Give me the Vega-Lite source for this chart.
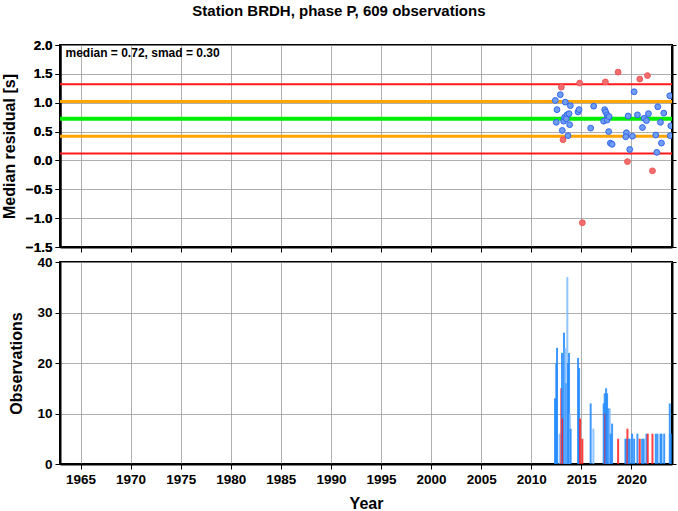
{
  "$schema": "https://vega.github.io/schema/vega-lite/v6.json",
  "background": "white",
  "padding": {"left": 0, "top": 4, "right": 6, "bottom": 0},
  "bounds": "flush",
  "spacing": 15,
  "resolve": {"scale": {"color": "independent"}},
  "title": {"text": "Station BRDH, phase P, 609 observations", "font": "Liberation Sans", "fontSize": 15, "fontWeight": "bold", "color": "black", "anchor": "middle", "offset": 18},
  "config": {
    "font": "Liberation Sans",
    "view": {"stroke": "black", "strokeWidth": 2},
    "axis": {
      "labelFont": "Liberation Sans", "labelFontWeight": "bold", "labelFontSize": 13.5, "labelColor": "black",
      "titleFont": "Liberation Sans", "titleFontWeight": "bold", "titleFontSize": 16, "titleColor": "black",
      "gridColor": "#9a9a9a", "gridWidth": 0.8, "gridOpacity": 1,
      "tickColor": "black", "tickSize": 5, "tickWidth": 1,
      "domainColor": "black", "domainWidth": 2, "labelPadding": 3
    }
  },
  "datasets": {
    "pts": [
      {"year": 2018.67, "res": 1.53, "cls": "out"},
      {"year": 2013.0, "res": 1.27, "cls": "out"},
      {"year": 2014.83, "res": 1.34, "cls": "out"},
      {"year": 2017.4, "res": 1.36, "cls": "out"},
      {"year": 2020.83, "res": 1.41, "cls": "out"},
      {"year": 2021.6, "res": 1.47, "cls": "out"},
      {"year": 2013.17, "res": 0.36, "cls": "out"},
      {"year": 2019.6, "res": -0.02, "cls": "out"},
      {"year": 2022.1, "res": -0.18, "cls": "out"},
      {"year": 2015.1, "res": -1.08, "cls": "out"},
      {"year": 2012.4, "res": 1.04, "cls": "in"},
      {"year": 2012.9, "res": 1.14, "cls": "in"},
      {"year": 2012.57, "res": 0.88, "cls": "in"},
      {"year": 2012.5, "res": 0.66, "cls": "in"},
      {"year": 2013.4, "res": 1.01, "cls": "in"},
      {"year": 2013.9, "res": 0.95, "cls": "in"},
      {"year": 2013.1, "res": 0.52, "cls": "in"},
      {"year": 2013.67, "res": 0.43, "cls": "in"},
      {"year": 2013.23, "res": 0.68, "cls": "in"},
      {"year": 2013.33, "res": 0.75, "cls": "in"},
      {"year": 2013.57, "res": 0.79, "cls": "in"},
      {"year": 2013.77, "res": 0.81, "cls": "in"},
      {"year": 2013.83, "res": 0.62, "cls": "in"},
      {"year": 2013.5, "res": 0.72, "cls": "in"},
      {"year": 2014.67, "res": 0.84, "cls": "in"},
      {"year": 2014.77, "res": 0.88, "cls": "in"},
      {"year": 2015.93, "res": 0.56, "cls": "in"},
      {"year": 2016.23, "res": 0.94, "cls": "in"},
      {"year": 2017.33, "res": 0.88, "cls": "in"},
      {"year": 2017.43, "res": 0.84, "cls": "in"},
      {"year": 2017.57, "res": 0.79, "cls": "in"},
      {"year": 2017.67, "res": 0.75, "cls": "in"},
      {"year": 2017.23, "res": 0.68, "cls": "in"},
      {"year": 2017.57, "res": 0.70, "cls": "in"},
      {"year": 2017.77, "res": 0.76, "cls": "in"},
      {"year": 2017.73, "res": 0.50, "cls": "in"},
      {"year": 2017.9, "res": 0.30, "cls": "in"},
      {"year": 2018.07, "res": 0.28, "cls": "in"},
      {"year": 2019.5, "res": 0.48, "cls": "in"},
      {"year": 2019.43, "res": 0.41, "cls": "in"},
      {"year": 2019.67, "res": 0.77, "cls": "in"},
      {"year": 2020.1, "res": 0.42, "cls": "in"},
      {"year": 2019.83, "res": 0.19, "cls": "in"},
      {"year": 2020.27, "res": 1.19, "cls": "in"},
      {"year": 2020.6, "res": 0.79, "cls": "in"},
      {"year": 2021.1, "res": 0.57, "cls": "in"},
      {"year": 2021.27, "res": 0.73, "cls": "in"},
      {"year": 2021.5, "res": 0.69, "cls": "in"},
      {"year": 2021.7, "res": 0.81, "cls": "in"},
      {"year": 2022.43, "res": 0.44, "cls": "in"},
      {"year": 2022.53, "res": 0.14, "cls": "in"},
      {"year": 2022.63, "res": 0.93, "cls": "in"},
      {"year": 2022.9, "res": 0.66, "cls": "in"},
      {"year": 2023.0, "res": 0.30, "cls": "in"},
      {"year": 2023.23, "res": 0.82, "cls": "in"},
      {"year": 2023.83, "res": 1.12, "cls": "in"},
      {"year": 2023.87, "res": 0.43, "cls": "in"},
      {"year": 2023.93, "res": 0.60, "cls": "in"}
    ],
    "lines": [
      {"val": 1.32, "kind": "r2", "w": 2},
      {"val": 0.12, "kind": "r2", "w": 2},
      {"val": 1.02, "kind": "r1", "w": 3},
      {"val": 0.42, "kind": "r1", "w": 3},
      {"val": 0.72, "kind": "med", "w": 4}
    ],
    "bars": [
      {"year": 2012.37, "n": 13, "c": "blue"},
      {"year": 2012.5, "n": 20, "c": "blue"},
      {"year": 2012.57, "n": 23, "c": "blue"},
      {"year": 2012.83, "n": 6, "c": "light"},
      {"year": 2013.0, "n": 15, "c": "red"},
      {"year": 2013.07, "n": 22, "c": "blue"},
      {"year": 2013.13, "n": 9, "c": "red"},
      {"year": 2013.27, "n": 26, "c": "blue"},
      {"year": 2013.4, "n": 23, "c": "light"},
      {"year": 2013.5, "n": 16, "c": "blue"},
      {"year": 2013.6, "n": 37, "c": "light"},
      {"year": 2013.67, "n": 20, "c": "blue"},
      {"year": 2013.77, "n": 22, "c": "blue"},
      {"year": 2013.85, "n": 10, "c": "light"},
      {"year": 2013.93, "n": 7, "c": "blue"},
      {"year": 2014.67, "n": 21, "c": "blue"},
      {"year": 2014.77, "n": 19, "c": "blue"},
      {"year": 2014.87, "n": 9, "c": "red"},
      {"year": 2015.1, "n": 5, "c": "red"},
      {"year": 2015.93, "n": 12, "c": "blue"},
      {"year": 2016.2, "n": 7, "c": "light"},
      {"year": 2017.23, "n": 12, "c": "blue"},
      {"year": 2017.33, "n": 14, "c": "blue"},
      {"year": 2017.4, "n": 10, "c": "red"},
      {"year": 2017.47, "n": 15, "c": "blue"},
      {"year": 2017.57, "n": 14, "c": "blue"},
      {"year": 2017.73, "n": 11, "c": "blue"},
      {"year": 2017.83, "n": 11, "c": "light"},
      {"year": 2017.93, "n": 6, "c": "blue"},
      {"year": 2018.07, "n": 8, "c": "blue"},
      {"year": 2018.67, "n": 5, "c": "red"},
      {"year": 2019.4, "n": 5, "c": "blue"},
      {"year": 2019.5, "n": 5, "c": "blue"},
      {"year": 2019.6, "n": 7, "c": "red"},
      {"year": 2019.73, "n": 5, "c": "blue"},
      {"year": 2019.83, "n": 5, "c": "blue"},
      {"year": 2020.07, "n": 6, "c": "blue"},
      {"year": 2020.27, "n": 5, "c": "blue"},
      {"year": 2020.6, "n": 6, "c": "blue"},
      {"year": 2020.83, "n": 5, "c": "red"},
      {"year": 2021.07, "n": 5, "c": "blue"},
      {"year": 2021.23, "n": 5, "c": "blue"},
      {"year": 2021.5, "n": 6, "c": "blue"},
      {"year": 2021.63, "n": 6, "c": "red"},
      {"year": 2022.1, "n": 6, "c": "red"},
      {"year": 2022.43, "n": 6, "c": "blue"},
      {"year": 2022.6, "n": 6, "c": "blue"},
      {"year": 2022.9, "n": 6, "c": "blue"},
      {"year": 2023.0, "n": 6, "c": "blue"},
      {"year": 2023.27, "n": 6, "c": "blue"},
      {"year": 2023.83, "n": 12, "c": "blue"},
      {"year": 2023.93, "n": 6, "c": "blue"}
    ]
  },
  "vconcat": [
    {
      "width": 612,
      "height": 202,
      "resolve": {"axis": {"y": "independent"}},
      "layer": [
        {
          "data": {"name": "lines"},
          "mark": {"type": "rule", "clip": true},
          "encoding": {
            "y": {"field": "val", "type": "quantitative", "scale": {"domain": [-1.5, 2.0], "nice": false}, "axis": {"values": [-1.5, -1.0, -0.5, 0.0, 0.5, 1.0, 1.5, 2.0], "format": ".1f", "title": "Median residual [s]", "titlePadding": 8, "grid": true}},
            "color": {"field": "kind", "type": "nominal", "scale": {"domain": ["r2", "r1", "med"], "range": ["#ff1a1a", "#ffa500", "#00ee00"]}, "legend": null},
            "strokeWidth": {"field": "w", "type": "quantitative", "scale": null}
          }
        },
        {
          "data": {"name": "pts"},
          "mark": {"type": "circle", "size": 34, "opacity": 1, "strokeWidth": 1, "clip": true},
          "encoding": {
            "x": {"field": "year", "type": "quantitative", "scale": {"domain": [1962.95, 2024.05], "nice": false, "zero": false}, "axis": {"values": [1965, 1970, 1975, 1980, 1985, 1990, 1995, 2000, 2005, 2010, 2015, 2020], "labels": false, "title": null, "grid": true, "ticks": true}},
            "y": {"field": "res", "type": "quantitative", "scale": {"domain": [-1.5, 2.0], "nice": false}, "axis": {"orient": "right", "values": [-1.5, -1.0, -0.5, 0.0, 0.5, 1.0, 1.5, 2.0], "labels": false, "title": null, "grid": false, "tickSize": 4}},
            "fill": {"field": "cls", "type": "nominal", "scale": {"domain": ["in", "out"], "range": ["#6f9df2", "#f26d6d"]}, "legend": null},
            "stroke": {"field": "cls", "type": "nominal", "scale": {"domain": ["in", "out"], "range": ["#3366ee", "#ee5555"]}, "legend": null}
          }
        },
        {
          "data": {"values": [{"label": "median = 0.72, smad = 0.30"}]},
          "mark": {"type": "text", "align": "left", "baseline": "middle", "font": "Liberation Sans", "fontWeight": "bold", "fontSize": 12, "color": "black"},
          "encoding": {
            "x": {"datum": 1963.5, "type": "quantitative"},
            "y": {"datum": 1.86, "type": "quantitative"},
            "text": {"field": "label"}
          }
        }
      ]
    },
    {
      "width": 612,
      "height": 202,
      "data": {"name": "bars"},
      "resolve": {"axis": {"y": "independent"}},
      "layer": [
        {
          "mark": {"type": "rule", "strokeWidth": 2, "opacity": 0.85, "clip": true},
          "encoding": {
            "x": {"field": "year", "type": "quantitative", "scale": {"domain": [1962.95, 2024.05], "nice": false, "zero": false}, "axis": {"values": [1965, 1970, 1975, 1980, 1985, 1990, 1995, 2000, 2005, 2010, 2015, 2020], "format": "d", "title": "Year", "titlePadding": 10, "grid": true}},
            "y": {"field": "n", "type": "quantitative", "scale": {"domain": [0, 40], "nice": false}, "axis": {"values": [0, 10, 20, 30, 40], "title": "Observations", "titlePadding": 12, "grid": true}},
            "y2": {"datum": 0},
            "color": {"field": "c", "type": "nominal", "scale": {"domain": ["blue", "light", "red"], "range": ["#1e88ff", "#7fbaff", "#ff2020"]}, "legend": null}
          }
        },
        {
          "mark": {"type": "rule", "opacity": 0},
          "encoding": {
            "y": {"field": "n", "type": "quantitative", "scale": {"domain": [0, 40], "nice": false}, "axis": {"orient": "right", "values": [0, 10, 20, 30, 40], "labels": false, "title": null, "grid": false, "tickSize": 4}}
          }
        }
      ]
    }
  ]
}
